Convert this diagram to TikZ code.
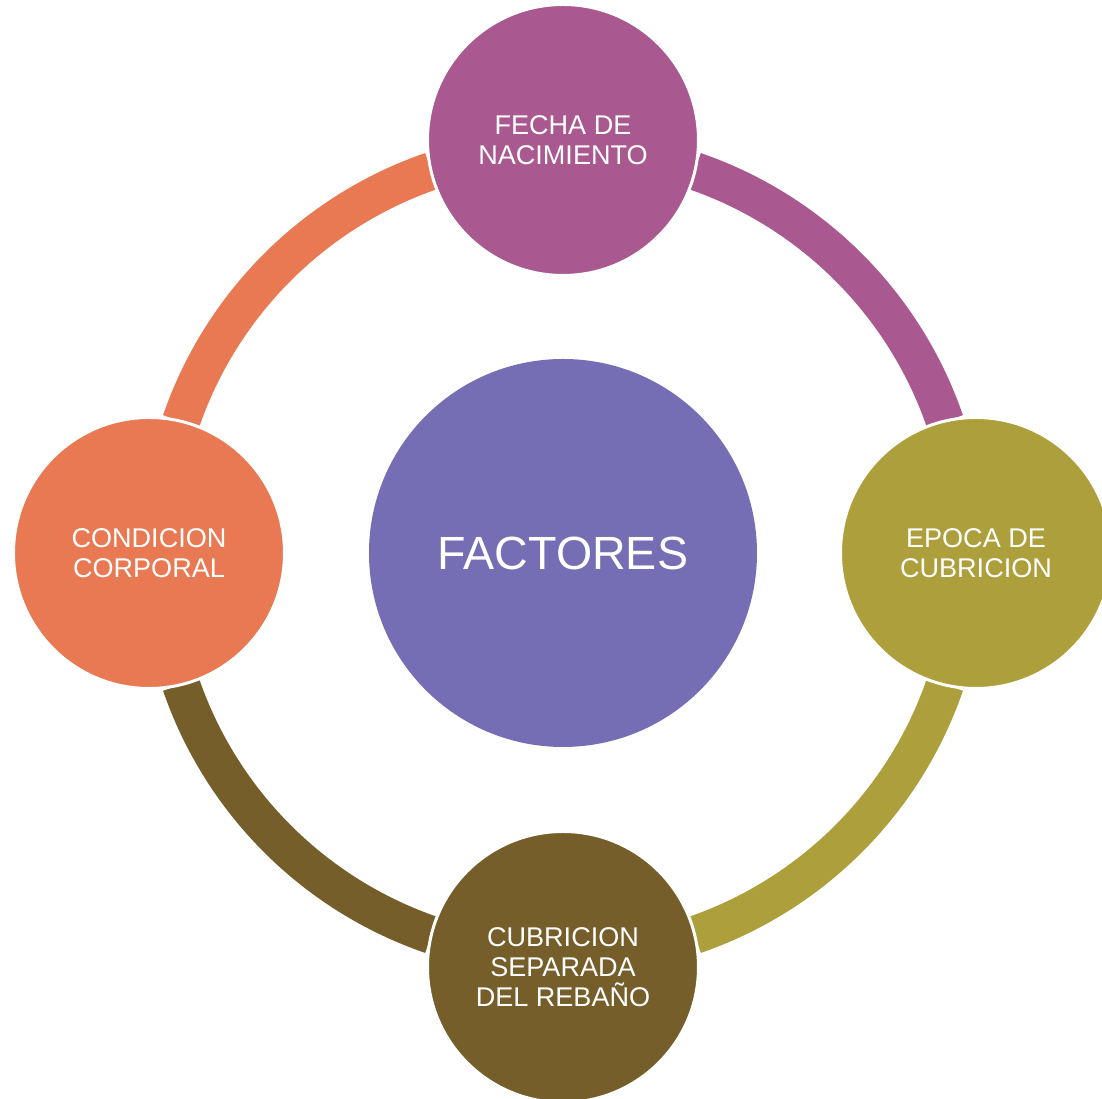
\documentclass[tikz,border=0pt]{standalone}
\usepackage{fontspec}
\setmainfont{Liberation Sans}
\definecolor{fechacol}{RGB}{169,89,143}
\definecolor{epocacol}{RGB}{173,159,59}
\definecolor{rebanocol}{RGB}{118,94,42}
\definecolor{condcol}{RGB}{232,121,82}
\definecolor{factcol}{RGB}{117,110,180}
\tikzset{
  factor/.style={circle, fill=#1, draw=white, line width=0.06cm,
    minimum size=5.42cm, inner sep=0pt, text=white, align=center,
    font=\fontsize{15.4}{17}\selectfont},
  ring/.style={line width=0.76cm, draw=#1},
}
\begin{document}
\begin{tikzpicture}
  \useasboundingbox (-11.26,-10.92) rectangle (10.78,11.06);
  \node[circle, fill=factcol, minimum size=7.76cm, inner sep=0pt, text=white,
    font=\fontsize{26.5}{30}\selectfont] (fac) at (0,0) {FACTORES};
  % ring pieces, clockwise
  \foreach \s/\e/\c in {71/19/fechacol, -19/-71/epocacol,
                        -109/-161/rebanocol, 161/109/condcol}
    \draw[ring=\c] (fac.center) ++(\s:8.08) arc[start angle=\s, end angle=\e, radius=8.08];
  \node[factor=fechacol] (fecha) at (0,8.26) {FECHA DE\\NACIMIENTO};
  \node[factor=epocacol] (epoca) at (8.26,0) {EPOCA DE\\CUBRICION};
  \node[factor=rebanocol] (rebano) at (0,-8.28) {CUBRICION\\SEPARADA\\DEL REBAÑO};
  \node[factor=condcol] (cond) at (-8.28,0) {CONDICION\\CORPORAL};
\end{tikzpicture}
\end{document}
